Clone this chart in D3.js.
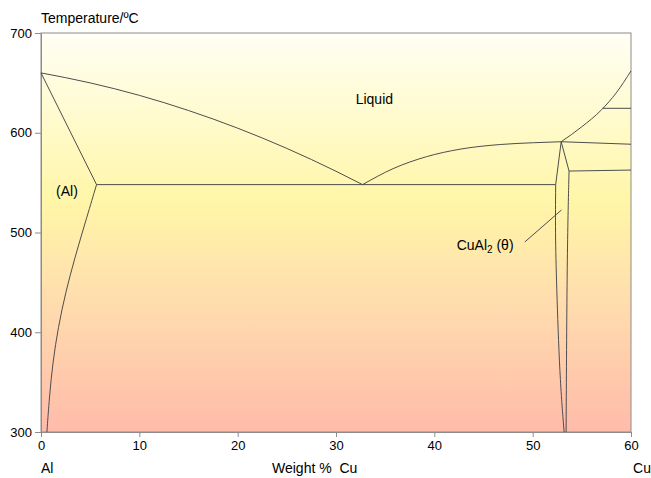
<!DOCTYPE html>
<html>
<head>
<meta charset="utf-8">
<script src="https://cdn.jsdelivr.net/npm/d3@7/dist/d3.min.js"></script>
<style>
  body { margin: 0; background: #fff; }
  svg text { font-family: "Liberation Sans", Arial, sans-serif; fill: #000; }
  .axis path, .axis line { stroke: #8c8c8c; }
  .axis text { font-size: 13px; }
  .phase { fill: none; stroke: #4d4d4d; stroke-width: 1; }
</style>
</head>
<body>
<div id="chart"></div>
<script>
// axis ticks
var xTicks = [0, 10, 20, 30, 40, 50, 60];
var yTicks = [300, 400, 500, 600, 700];

// phase boundaries, [wt% Cu, temperature C]
var liquidusAl = [[0, 660], [5, 650], [10, 637.5], [15, 622.3], [20, 604.6], [25, 584.3], [30, 561.4], [32.7, 548]];
var liquidusTheta = [[32.7, 548], [35.8, 564], [39.2, 576], [42.6, 583.5], [46.7, 588.2], [50.1, 590], [52.9, 591]];
var liquidusRight = [[52.9, 591], [55, 606], [57, 623], [58.5, 640], [60, 662]];
var solidusAl = [[0, 660], [5.65, 548]];
var solvusAl = [[5.65, 548], [4.5, 510], [3.45, 475], [2.5, 440], [1.75, 405], [1.2, 370], [0.85, 335], [0.6, 300]];
var eutecticLine = [[5.65, 548], [52.34, 548]];
var thetaTopLeft = [[52.9, 591], [52.34, 548]];
var thetaLeft = [[52.34, 548], [52.3, 500], [52.42, 450], [52.75, 355], [53.2, 300]];
var thetaTopRight = [[52.9, 591], [53.7, 561.6]];
var thetaRight = [[53.7, 561.6], [53.5, 480], [53.4, 300]];
var line591 = [[52.9, 591], [60, 588.5]];
var line562 = [[53.7, 561.6], [60, 562.6]];
var line624 = [[57.1, 624.5], [60, 624.5]];
var leader = [[49.2, 490.5], [52.93, 522.6]];

var width = 651, height = 478;
var margin = {top: 33, right: 20, bottom: 46, left: 41};

var svg = d3.select("#chart").append("svg")
    .attr("width", width)
    .attr("height", height);

var x = d3.scaleLinear().domain([0, 60]).range([margin.left, width - margin.right]);
var y = d3.scaleLinear().domain([300, 700]).range([height - margin.bottom, margin.top]);

// background gradient
var grad = svg.append("defs").append("linearGradient")
    .attr("id", "bg").attr("x1", 0).attr("y1", 0).attr("x2", 0).attr("y2", 1);
grad.append("stop").attr("offset", "0%").attr("stop-color", "#fffff4");
grad.append("stop").attr("offset", "42%").attr("stop-color", "#fff6a8");
grad.append("stop").attr("offset", "70%").attr("stop-color", "#ffdaae");
grad.append("stop").attr("offset", "100%").attr("stop-color", "#ffbbaa");

svg.append("rect")
    .attr("x", x(0)).attr("y", y(700))
    .attr("width", x(60) - x(0)).attr("height", y(300) - y(700))
    .attr("fill", "url(#bg)")
    .attr("stroke", "#8c8c8c");

// axes
svg.append("g").attr("class", "axis")
    .attr("transform", "translate(0," + y(300) + ")")
    .call(d3.axisBottom(x).tickValues(xTicks).tickSize(5).tickPadding(3).tickSizeOuter(0))
    .selectAll("text").attr("dy", "0.75em");

svg.append("g").attr("class", "axis")
    .attr("transform", "translate(" + x(0) + ",0)")
    .call(d3.axisLeft(y).tickValues(yTicks).tickSize(6).tickPadding(3).tickSizeOuter(0));

// phase lines
var straight = d3.line().x(function(d){ return x(d[0]); }).y(function(d){ return y(d[1]); });
var smoothX = d3.line().x(function(d){ return x(d[0]); }).y(function(d){ return y(d[1]); })
    .curve(d3.curveMonotoneX);
var smooth = d3.line().x(function(d){ return x(d[0]); }).y(function(d){ return y(d[1]); })
    .curve(d3.curveBasis);

[liquidusAl, liquidusTheta, liquidusRight].forEach(function(d){
    svg.append("path").attr("class", "phase").attr("d", smoothX(d));
});
[solvusAl, thetaLeft, thetaRight].forEach(function(d){
    svg.append("path").attr("class", "phase").attr("d", smooth(d));
});
[solidusAl, eutecticLine, thetaTopLeft, thetaTopRight, line591, line562, line624, leader].forEach(function(d){
    svg.append("path").attr("class", "phase").attr("d", straight(d));
});

// labels
svg.append("text").text("Temperature/ºC")
    .attr("x", 41).attr("y", 22.5).style("font-size", "14px");

svg.append("text").text("Liquid")
    .attr("x", x(32)).attr("y", y(629)).style("font-size", "14px");
svg.append("text").text("(Al)")
    .attr("x", x(1.53)).attr("y", y(537)).style("font-size", "14px");

var cu = svg.append("text")
    .attr("x", x(42.27)).attr("y", y(482)).style("font-size", "14px");
cu.append("tspan").text("CuAl");
cu.append("tspan").text("2").style("font-size", "10px").attr("dy", 3);
cu.append("tspan").text(" (θ)").attr("dy", -3);

svg.append("text").text("Al")
    .attr("x", x(0)).attr("y", 473).style("font-size", "14px");
svg.append("text").text("Weight %  Cu")
    .attr("x", 272).attr("y", 473).style("font-size", "14px")
    .style("white-space", "pre");
svg.append("text").text("Cu")
    .attr("x", width).attr("y", 473).attr("text-anchor", "end").style("font-size", "14px");
</script>
</body>
</html>
